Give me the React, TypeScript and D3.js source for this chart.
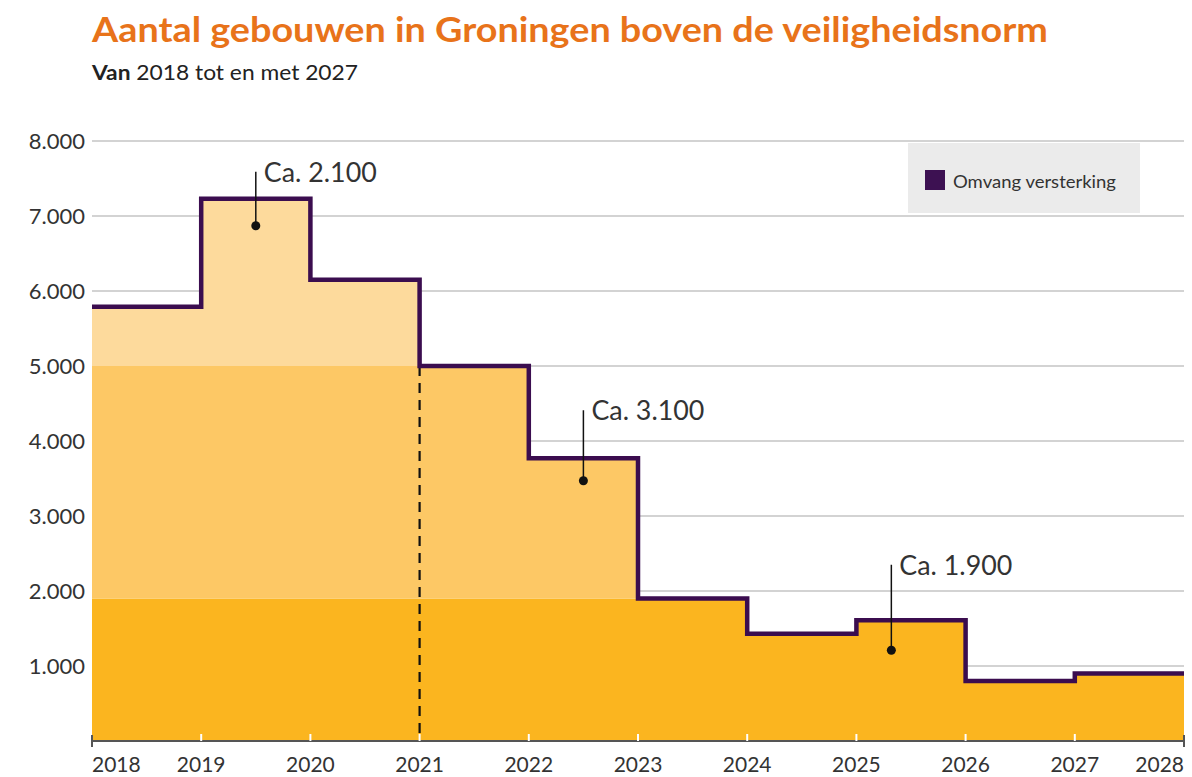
import React from "react";
import * as d3 from "d3";

const years = [2018, 2019, 2020, 2021, 2022, 2023, 2024, 2025, 2026, 2027];
const values = [5790, 7230, 6150, 5000, 3770, 1900, 1430, 1610, 800, 900];
const endYear = 2028;
const yTicks = [1000, 2000, 3000, 4000, 5000, 6000, 7000, 8000];
const xTicks = [2018, 2019, 2020, 2021, 2022, 2023, 2024, 2025, 2026, 2027, 2028];
const bands = [
  { from: 0, to: 1900, color: "#FBB51F" },
  { from: 1900, to: 5000, color: "#FDC865" },
  { from: 5000, to: 8000, color: "#FDDA9C" },
];
const dashedYear = 2021;
const dashedValue = 5000;
const annotations = [
  { label: "Ca. 2.100", x: 2019.5, dot: 6870, top: 7590 },
  { label: "Ca. 3.100", x: 2022.5, dot: 3470, top: 4410 },
  { label: "Ca. 1.900", x: 2025.32, dot: 1210, top: 2350 },
];
const title = "Aantal gebouwen in Groningen boven de veiligheidsnorm";
const legendLabel = "Omvang versterking";

const W = 1192;
const H = 777;
const left = 92;
const right = 1184;
const top = 141;
const bottom = 741;
const font = "Lato, 'Open Sans', sans-serif";

export default function App() {
  const x = d3.scaleLinear().domain([2018, 2028]).range([left, right]);
  const y = d3.scaleLinear().domain([0, 8000]).range([bottom, top]);
  const pts: [number, number][] = years.map((yr, i) => [yr, values[i]]);
  pts.push([endYear, values[values.length - 1]]);
  const line = d3
    .line<[number, number]>()
    .x((d) => x(d[0]))
    .y((d) => y(d[1]))
    .curve(d3.curveStepAfter);
  const area = d3
    .area<[number, number]>()
    .x((d) => x(d[0]))
    .y0(y(0))
    .y1((d) => y(d[1]))
    .curve(d3.curveStepAfter);
  const fmt = (v: number) => d3.format(",")(v).replace(/,/g, ".");

  return (
    <svg
      width={W}
      height={H}
      style={{ position: "absolute", left: 0, top: 0, background: "#fff" }}
      fontFamily={font}
    >
      <defs>
        <clipPath id="areaClip">
          <path d={area(pts) || ""} />
        </clipPath>
      </defs>
      <text x={left} y={42} fill="#E8731A" fontSize={34} fontWeight={700} textLength={956} lengthAdjust="spacingAndGlyphs">
        {title}
      </text>
      <text x={left} y={80} fill="#222" fontSize={21} textLength={266} lengthAdjust="spacingAndGlyphs">
        <tspan fontWeight={700}>Van</tspan> 2018 tot en met 2027
      </text>

      {/* gridlines */}
      {yTicks.map((t) => (
        <line key={t} x1={left} x2={right} y1={y(t)} y2={y(t)} stroke="#c4c4c4" strokeWidth={1.5} />
      ))}
      {yTicks.map((t) => (
        <text key={"l" + t} x={85} y={y(t) + 8} textAnchor="end" fontSize={22} fill="#333">
          {fmt(t)}
        </text>
      ))}

      {/* legend */}
      <rect x={908} y={143} width={232} height={70} fill="#ebebeb" />
      <rect x={925} y={170} width={20} height={20} fill="#3d1152" />
      <text x={953} y={188} fontSize={17} fill="#333" textLength={163} lengthAdjust="spacingAndGlyphs">
        {legendLabel}
      </text>

      {/* filled bands */}
      <g clipPath="url(#areaClip)">
        {bands.map((b) => (
          <rect key={b.from} x={left} width={right - left} y={y(b.to)} height={y(b.from) - y(b.to)} fill={b.color} />
        ))}
      </g>

      {/* dashed line */}
      <line
        x1={x(dashedYear)}
        x2={x(dashedYear)}
        y1={y(dashedValue)}
        y2={bottom}
        stroke="#111"
        strokeWidth={2.2}
        strokeDasharray="10 7"
      />

      {/* step line */}
      <path d={line(pts) || ""} fill="none" stroke="#3b0d4f" strokeWidth={4.5} strokeLinejoin="miter" />

      {/* axis */}
      <line x1={left} x2={right} y1={bottom} y2={bottom} stroke="#555" strokeWidth={2} />
      {xTicks.map((t, i) => {
        const edge = i === 0 || i === xTicks.length - 1;
        return (
          <line
            key={"t" + t}
            x1={x(t)}
            x2={x(t)}
            y1={edge ? bottom - 6 : bottom - 7}
            y2={edge ? bottom + 6 : bottom}
            stroke={edge ? "#555" : "#fff"}
            strokeWidth={2}
          />
        );
      })}
      {xTicks.map((t, i) => (
        <text
          key={"x" + t}
          x={x(t)}
          y={772}
          fontSize={21}
          fill="#333"
          textAnchor={i === 0 ? "start" : i === xTicks.length - 1 ? "end" : "middle"}
        >
          {t}
        </text>
      ))}

      {/* annotations */}
      {annotations.map((a) => (
        <g key={a.label}>
          <line x1={x(a.x)} x2={x(a.x)} y1={y(a.top)} y2={y(a.dot)} stroke="#111" strokeWidth={1.5} />
          <circle cx={x(a.x)} cy={y(a.dot)} r={4.5} fill="#111" />
          <text x={x(a.x) + 8} y={y(a.top) + 10} fontSize={26} fill="#333" textLength={113} lengthAdjust="spacingAndGlyphs">
            {a.label}
          </text>
        </g>
      ))}
    </svg>
  );
}
